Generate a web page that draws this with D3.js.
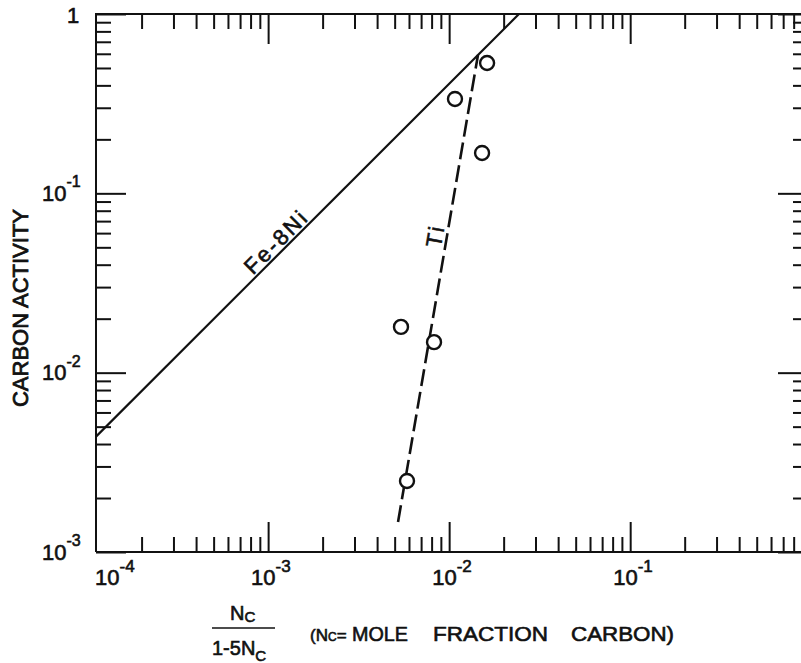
<!DOCTYPE html>
<html>
<head>
<meta charset="utf-8">
<script src="https://cdn.jsdelivr.net/npm/d3@7"></script>
<style>
  html, body { margin: 0; padding: 0; background: #fff; }
  svg { display: block; }
  text { font-family: "Liberation Sans", Arial, sans-serif; fill: #111; stroke: #111; stroke-width: 0.6px; }
</style>
</head>
<body>
<svg id="chart" width="801" height="663"></svg>
<script>
// Carbon activity against N_C / (1 - 5 N_C), both on log scales.

// Decade labels on each axis (powers of ten)
const xLabelPowers = [-4, -3, -2, -1];
const yLabelPowers = [-3, -2, -1, 0];

// Ti measurements
const tiRatio    = [0.00542, 0.00825, 0.00585, 0.0162, 0.01077, 0.0152];
const tiActivity = [0.0180, 0.0148, 0.00249, 0.533, 0.336, 0.168];

// Fe-8Ni reference line (solid)
const feNiRatio    = [1.12e-4, 0.0243];
const feNiActivity = [0.0044, 1.0];

// Ti trend line (dashed)
const tiLineRatio    = [0.00522, 0.01443];
const tiLineActivity = [0.00147, 0.591];

// Axis extents
const xExtent = [1.12e-4, 0.96];
const yExtent = [1e-3, 1];

const frame = { left: 96, right: 808, top: 14, bottom: 552 };
const ink = "#111";

const svg = d3.select("#chart");

const x = d3.scaleLog().domain(xExtent).range([frame.left, frame.right]);
const y = d3.scaleLog().domain(yExtent).range([frame.bottom, frame.top]);

function logTicks(ext, major) {
  const out = [];
  const p0 = Math.floor(Math.log10(ext[0])), p1 = Math.ceil(Math.log10(ext[1]));
  for (let p = p0; p <= p1; p++) {
    for (let m = 1; m <= 9; m++) {
      const v = m * Math.pow(10, p);
      if (v < ext[0] * 0.999 || v > ext[1] * 1.001) continue;
      if ((m === 1) === major) out.push(v);
    }
  }
  return out;
}

const xMinor = logTicks(xExtent, false), xMajor = logTicks(xExtent, true);
const yMinor = logTicks(yExtent, false), yMajor = logTicks(yExtent, true);

// Inward ticks on all four sides
function addAxis(axisFn, scale, values, len, transform) {
  const g = svg.append("g")
    .attr("transform", transform)
    .call(axisFn(scale).tickValues(values).tickSize(-len).tickSizeOuter(0).tickFormat(""));
  g.select(".domain").remove();
  g.selectAll(".tick line").attr("stroke", ink).attr("stroke-width", 2);
  g.selectAll(".tick text").remove();
}
[[xMinor, 15], [xMajor, 30]].forEach(([vals, len]) => {
  addAxis(d3.axisBottom, x, vals, len, `translate(0,${frame.bottom})`);
  addAxis(d3.axisTop, x, vals, len, `translate(0,${frame.top})`);
});
[[yMinor, 15], [yMajor, 30]].forEach(([vals, len]) => {
  addAxis(d3.axisLeft, y, vals, len, `translate(${frame.left},0)`);
  addAxis(d3.axisRight, y, vals, len, `translate(${frame.right},0)`);
});

// Frame
svg.append("path")
  .attr("d", `M${frame.left},${frame.bottom}H${frame.right}M${frame.left},${frame.bottom}V${frame.top}H${frame.right}V${frame.bottom}`)
  .attr("fill", "none").attr("stroke", ink).attr("stroke-width", 2);

// X decade labels
xLabelPowers.forEach(p => {
  const tx = x(Math.pow(10, p));
  const sx = Math.max(tx - 17, frame.left - 1);
  const t = svg.append("text").attr("x", sx).attr("y", 585);
  t.append("tspan").attr("font-size", 22).text("10");
  t.append("tspan").attr("font-size", 17).attr("dy", -13).text("-" + Math.abs(p));
});

// Y decade labels
yLabelPowers.forEach(p => {
  const ty = y(Math.pow(10, p));
  if (p === 0) {
    svg.append("text").attr("x", 67).attr("y", ty + 9).attr("font-size", 22).text("1");
    return;
  }
  const t = svg.append("text").attr("x", 42).attr("y", ty + 7.5);
  t.append("tspan").attr("font-size", 22).text("10");
  t.append("tspan").attr("font-size", 16).attr("dy", -13.5).text("-" + Math.abs(p));
});

// Y axis title
svg.append("text")
  .attr("transform", "translate(28,308) rotate(-90)")
  .attr("text-anchor", "middle")
  .attr("font-size", 22)
  .style("stroke-width", "0.8px")
  .text("CARBON ACTIVITY");

// X axis title: fraction plus explanation
const title = svg.append("g").style("stroke-width", "0.9px");
const num = title.append("text").attr("x", 230).attr("y", 620).attr("font-size", 20);
num.append("tspan").text("N");
num.append("tspan").attr("font-size", 15).attr("dy", 2).text("C");
title.append("line")
  .attr("x1", 212).attr("x2", 275).attr("y1", 628).attr("y2", 628)
  .attr("stroke", ink).attr("stroke-width", 1.6);
const den = title.append("text").attr("x", 212).attr("y", 655).attr("font-size", 20);
den.append("tspan").text("1-5N");
den.append("tspan").attr("font-size", 15).attr("dy", 6).text("C");

const expl = title.append("text").attr("x", 310).attr("y", 641).attr("font-size", 17);
expl.append("tspan").text("(N");
expl.append("tspan").attr("font-size", 12).text("C");
expl.append("tspan").text("=");
title.append("text").attr("x", 352).attr("y", 641).attr("font-size", 20)
  .attr("textLength", 56).attr("lengthAdjust", "spacingAndGlyphs").text("MOLE");
title.append("text").attr("x", 433).attr("y", 641).attr("font-size", 20)
  .attr("textLength", 115).attr("lengthAdjust", "spacingAndGlyphs").text("FRACTION");
title.append("text").attr("x", 571).attr("y", 641).attr("font-size", 20)
  .attr("textLength", 103).attr("lengthAdjust", "spacingAndGlyphs").text("CARBON)");

// Lines
const line = d3.line().x(d => x(d[0])).y(d => y(d[1]));

svg.append("path")
  .datum(d3.zip(feNiRatio, feNiActivity))
  .attr("d", line)
  .attr("fill", "none").attr("stroke", ink).attr("stroke-width", 2.2);

svg.append("path")
  .datum(d3.zip(tiLineRatio, tiLineActivity))
  .attr("d", line)
  .attr("fill", "none").attr("stroke", ink).attr("stroke-width", 2.6)
  .attr("stroke-dasharray", "17,6");

// Ti points
svg.append("g").selectAll("circle")
  .data(d3.zip(tiRatio, tiActivity))
  .join("circle")
  .attr("cx", d => x(d[0])).attr("cy", d => y(d[1]))
  .attr("r", 7)
  .attr("fill", "#fff").attr("stroke", ink).attr("stroke-width", 2.4);

// Labels placed along their lines
function lineLabel(xs, ys, atRatio, text, offset, size, spacing) {
  const p0 = [x(xs[0]), y(ys[0])], p1 = [x(xs[1]), y(ys[1])];
  const ang = Math.atan2(p1[1] - p0[1], p1[0] - p0[0]);
  const px = x(atRatio);
  const t = (px - p0[0]) / (p1[0] - p0[0]);
  const py = p0[1] + t * (p1[1] - p0[1]);
  // shift perpendicular, to the upper/left side of the line
  const nx = Math.sin(ang) * offset, ny = -Math.cos(ang) * offset;
  svg.append("text")
    .attr("transform", `translate(${px + nx},${py + ny}) rotate(${ang * 180 / Math.PI})`)
    .attr("text-anchor", "middle")
    .attr("font-size", size)
    .attr("letter-spacing", spacing)
    .text(text);
}
lineLabel(feNiRatio, feNiActivity, 0.00122, "Fe-8Ni", 3, 22, 2.5);
lineLabel(tiLineRatio, tiLineActivity, 0.0097, "Ti", 4, 22, 3);
</script>
</body>
</html>
